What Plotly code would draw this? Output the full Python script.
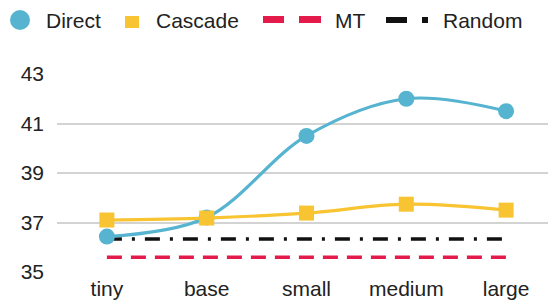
import plotly.graph_objects as go

categories = ["tiny", "base", "small", "medium", "large"]
direct = [36.43, 37.2, 40.5, 42.0, 41.5]
cascade = [37.1, 37.18, 37.38, 37.74, 37.5]
mt = [35.6] * 5
random_base = [36.33] * 5
y_ticks = [35, 37, 39, 41, 43]
series_names = ["Direct", "Cascade", "MT", "Random"]

BLUE = "#56B4D0"
YELLOW = "#F8C431"
RED = "#E31A4A"
BLACK = "#111111"
TEXT = "#222222"
FONT = "Liberation Sans, Arial, sans-serif"

fig = go.Figure()
fig.add_trace(go.Scatter(x=categories, y=mt, mode="lines", name=series_names[2], showlegend=False,
                         line=dict(color=RED, width=3.5, dash="15px,9px")))
fig.add_trace(go.Scatter(x=categories, y=random_base, mode="lines", name=series_names[3], showlegend=False,
                         line=dict(color=BLACK, width=3.5, dash="15px,10px,3px,10px")))
fig.add_trace(go.Scatter(x=categories, y=direct, mode="lines+markers", name=series_names[0], showlegend=False,
                         line=dict(color=BLUE, width=3.2, shape="spline"),
                         marker=dict(symbol="circle", size=16, color=BLUE)))
fig.add_trace(go.Scatter(x=categories, y=cascade, mode="lines+markers", name=series_names[1], showlegend=False,
                         line=dict(color=YELLOW, width=3.2, shape="spline"),
                         marker=dict(symbol="square", size=15, color=YELLOW)))

# ---- custom legend (pixel offsets from plot-area top-left) ----
PL, PT = 57, 74  # plot-area top-left in page pixels


def px_shape(kind, x0, x1, y0, y1, color):
    fig.add_shape(type=kind, xref="paper", yref="paper", xsizemode="pixel", ysizemode="pixel",
                  xanchor=0, yanchor=1, x0=x0 - PL, x1=x1 - PL, y0=PT - y1, y1=PT - y0,
                  fillcolor=color, line=dict(width=0), layer="above")


px_shape("circle", 10, 30, 10, 30, BLUE)
px_shape("rect", 125, 139, 16, 28, YELLOW)
px_shape("rect", 263, 284, 16, 23, RED)
px_shape("rect", 299, 321, 16, 23, RED)
px_shape("rect", 386, 407, 17, 23, BLACK)
px_shape("rect", 422, 428, 17, 23, BLACK)

for name, tx in zip(series_names, [44, 154, 333, 441]):
    fig.add_annotation(text=name, xref="paper", yref="paper", x=0, y=1, xanchor="left",
                       yanchor="middle", xshift=tx - PL, yshift=PT - 20, showarrow=False,
                       font=dict(family=FONT, size=21, color=TEXT))

# page has an 8px body margin, so margins are reduced by 8
fig.update_layout(
    width=556, height=306,
    margin=dict(l=PL - 8, r=8, t=PT - 8, b=42, autoexpand=False),
    paper_bgcolor="white", plot_bgcolor="white",
    font=dict(family=FONT, size=21, color=TEXT),
    showlegend=False,
)
fig.update_xaxes(type="category", range=[-0.5, 4.5], showgrid=False, showline=False,
                 ticks="", tickfont=dict(size=21), ticklabelstandoff=2, automargin=False)
fig.update_yaxes(range=[35, 43], tickvals=y_ticks, showgrid=True, gridcolor="#d3d3d3",
                 gridwidth=1.5, zeroline=False, showline=False, ticks="",
                 tickfont=dict(size=21), ticklabelstandoff=12, automargin=False)

fig.write_html("out.html")
